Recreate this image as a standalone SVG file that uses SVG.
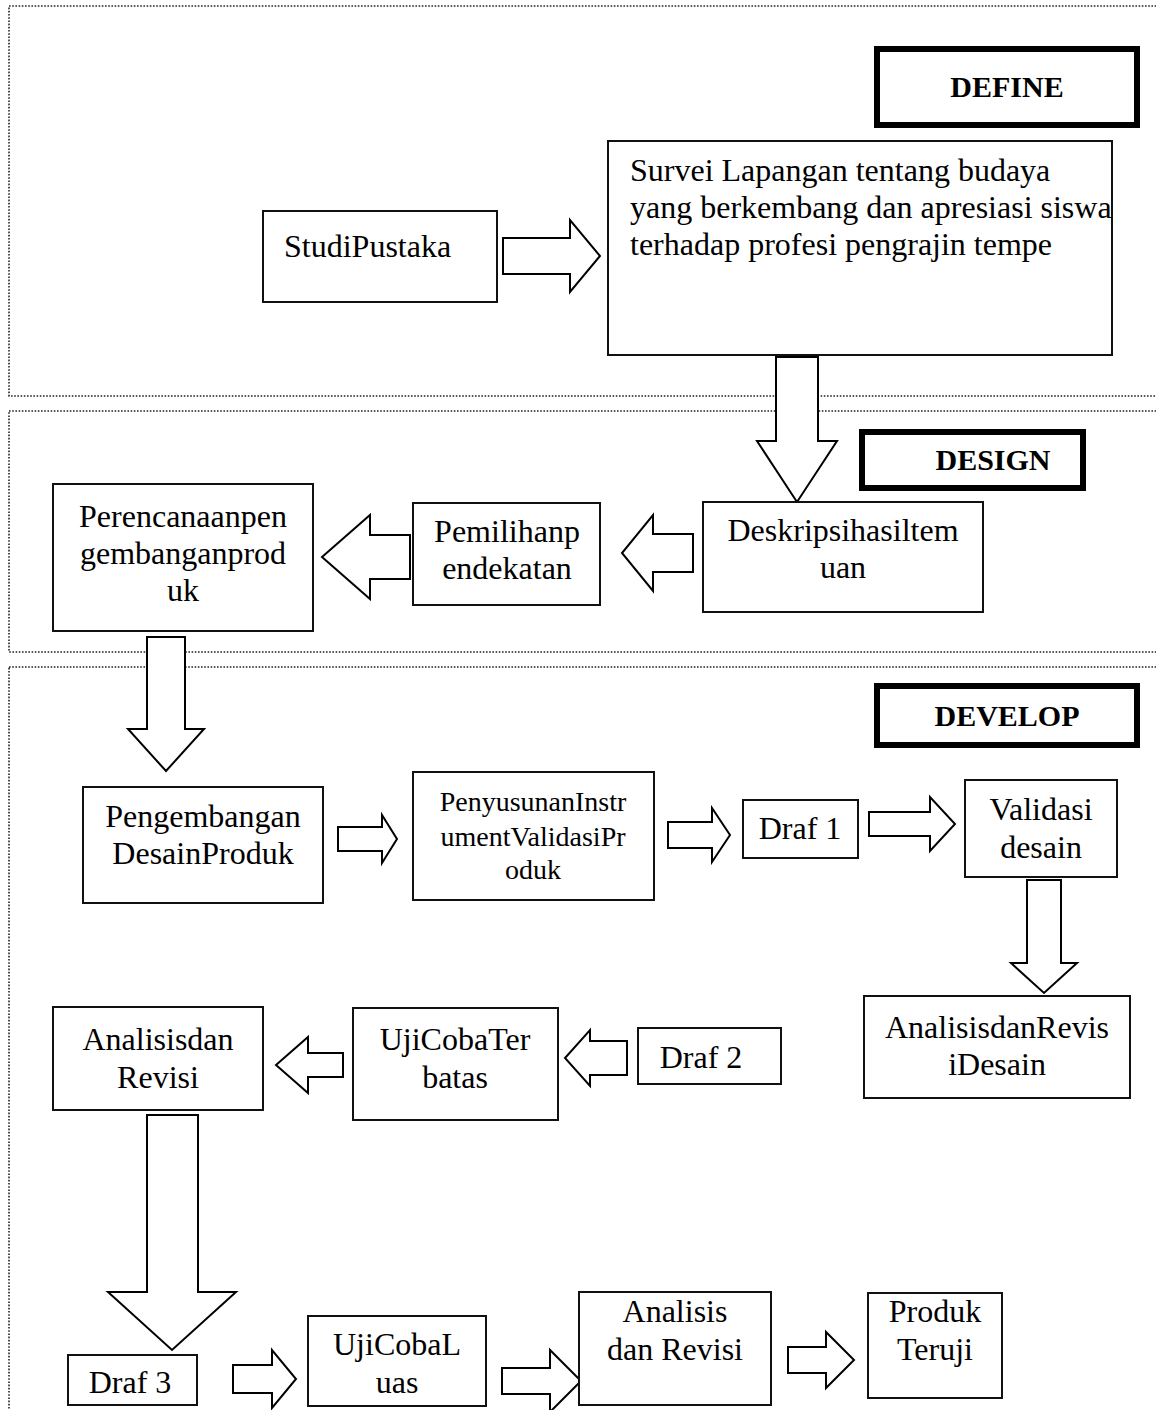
<svg xmlns="http://www.w3.org/2000/svg" width="1156" height="1410" viewBox="0 0 1156 1410">
<style>
.panel{fill:none;stroke:#222;stroke-width:1.6;stroke-dasharray:1.6 1.6}
.box{fill:#fff;stroke:#111;stroke-width:2}
.tag{fill:#fff;stroke:#000;stroke-width:6}
.arr{fill:#fff;stroke:#000;stroke-width:2;stroke-linejoin:miter}
text{font-family:"Liberation Serif","Times New Roman",serif;fill:#000}
.t{font-size:32px;text-anchor:middle}
.ts{font-size:28px;text-anchor:middle}
.tl{font-size:32px}
.b{font-size:30px;font-weight:bold;text-anchor:middle}
</style>
<rect width="1156" height="1410" fill="#fff"/>
<g id="panels">
<rect class="panel" x="9" y="6" width="1170" height="390"/>
<rect class="panel" x="9" y="411" width="1170" height="241"/>
<rect class="panel" x="9" y="667" width="1170" height="780"/>
</g>
<g id="connectors">
<polygon class="arr" points="503,238 570,238 570,220 600,256 570,292 570,274 503,274"/>
<polygon class="arr" points="776,357 818,357 818,441 837,441 797,502 757,441 776,441"/>
<polygon class="arr" points="693,534 653,534 653,515 622,553 653,591 653,572 693,572"/>
<polygon class="arr" points="410,535 370,535 370,515 322,557 370,599 370,579 410,579"/>
<polygon class="arr" points="147,637 185,637 185,729 204,729 166,771 128,729 147,729"/>
<polygon class="arr" points="338,827 382,827 382,815 397,839 382,863 382,851 338,851"/>
<polygon class="arr" points="668,822 712,822 712,808 730,835 712,862 712,848 668,848"/>
<polygon class="arr" points="869,812 930,812 930,797 955,824 930,851 930,836 869,836"/>
<polygon class="arr" points="1027,880 1061,880 1061,963 1077,963 1044,993 1011,963 1027,963"/>
<polygon class="arr" points="627,1041 590,1041 590,1030 565,1058 590,1086 590,1075 627,1075"/>
<polygon class="arr" points="343,1053 308,1053 308,1037 276,1065 308,1093 308,1077 343,1077"/>
<polygon class="arr" points="147,1115 198,1115 198,1292 236,1292 172,1350 108,1292 147,1292"/>
<polygon class="arr" points="233,1365 272,1365 272,1350 296,1379 272,1408 272,1393 233,1393"/>
<polygon class="arr" points="502,1368 550,1368 550,1350 581,1381 550,1412 550,1394 502,1394"/>
<polygon class="arr" points="788,1347 826,1347 826,1332 854,1360 826,1388 826,1373 788,1373"/>
</g>
<g id="define"><rect class="tag" x="877" y="49" width="260" height="76"/><text class="b" x="1007" y="97">DEFINE</text></g>
<g id="studi"><rect class="box" x="263" y="211" width="234" height="91"/><text class="tl" x="284" y="257">StudiPustaka</text></g>
<g id="survei"><rect class="box" x="608" y="141" width="504" height="214"/>
<text class="tl" x="630" y="181">Survei Lapangan tentang budaya</text>
<text class="tl" x="630" y="218">yang berkembang dan apresiasi siswa</text>
<text class="tl" x="630" y="255">terhadap profesi pengrajin tempe</text></g>
<g id="design"><rect class="tag" x="862" y="432" width="221" height="56"/><text class="b" x="993" y="470">DESIGN</text></g>
<g id="perencanaan"><rect class="box" x="53" y="484" width="260" height="147"/>
<text class="t" x="183" y="527">Perencanaanpen</text><text class="t" x="183" y="564">gembanganprod</text><text class="t" x="183" y="601">uk</text></g>
<g id="pemilihan"><rect class="box" x="413" y="503" width="187" height="102"/>
<text class="t" x="507" y="542">Pemilihanp</text><text class="t" x="507" y="579">endekatan</text></g>
<g id="deskripsi"><rect class="box" x="703" y="502" width="280" height="110"/>
<text class="t" x="843" y="541">Deskripsihasiltem</text><text class="t" x="843" y="578">uan</text></g>
<g id="develop"><rect class="tag" x="877" y="686" width="260" height="59"/><text class="b" x="1007" y="726">DEVELOP</text></g>
<g id="pengembangan"><rect class="box" x="83" y="787" width="240" height="116"/>
<text class="t" x="203" y="827">Pengembangan</text><text class="t" x="203" y="864">DesainProduk</text></g>
<g id="penyusunan"><rect class="box" x="413" y="772" width="241" height="128"/>
<text class="ts" x="533" y="811">PenyusunanInstr</text><text class="ts" x="533" y="846">umentValidasiPr</text><text class="ts" x="533" y="879">oduk</text></g>
<g id="draf1"><rect class="box" x="743" y="800" width="115" height="58"/><text class="t" x="800" y="839">Draf 1</text></g>
<g id="validasi"><rect class="box" x="965" y="780" width="152" height="97"/>
<text class="t" x="1041" y="820">Validasi</text><text class="t" x="1041" y="858">desain</text></g>
<g id="analisis-revisi-desain"><rect class="box" x="864" y="996" width="266" height="102"/>
<text class="t" x="997" y="1038">AnalisisdanRevis</text><text class="t" x="997" y="1075">iDesain</text></g>
<g id="analisis-revisi-1"><rect class="box" x="53" y="1007" width="210" height="103"/>
<text class="t" x="158" y="1050">Analisisdan</text><text class="t" x="158" y="1088">Revisi</text></g>
<g id="ujicoba-terbatas"><rect class="box" x="353" y="1008" width="205" height="112"/>
<text class="t" x="455" y="1050">UjiCobaTer</text><text class="t" x="455" y="1088">batas</text></g>
<g id="draf2"><rect class="box" x="638" y="1028" width="143" height="56"/><text class="t" x="701" y="1068">Draf 2</text></g>
<g id="draf3"><rect class="box" x="68" y="1355" width="129" height="50"/><text class="t" x="130" y="1393">Draf 3</text></g>
<g id="ujicoba-luas"><rect class="box" x="308" y="1316" width="178" height="90"/>
<text class="t" x="397" y="1355">UjiCobaL</text><text class="t" x="397" y="1393">uas</text></g>
<g id="analisis-revisi-2"><rect class="box" x="579" y="1292" width="192" height="113"/>
<text class="t" x="675" y="1322">Analisis</text><text class="t" x="675" y="1360">dan Revisi</text></g>
<g id="produk"><rect class="box" x="868" y="1293" width="134" height="105"/>
<text class="t" x="935" y="1322">Produk</text><text class="t" x="935" y="1360">Teruji</text></g>
</svg>
